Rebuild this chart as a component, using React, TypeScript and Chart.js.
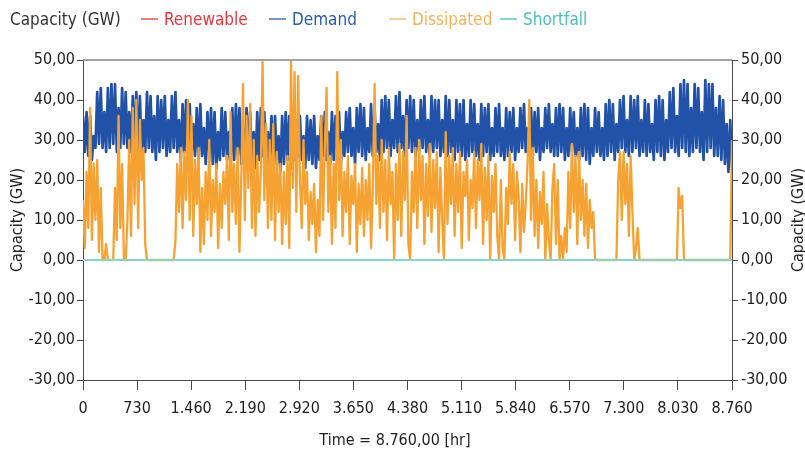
import { useEffect, useRef } from "react";
import { Chart, registerables } from "chart.js";

Chart.register(...registerables);

const FONT = '"Liberation Sans Narrow", "DejaVu Sans Condensed", "Roboto Condensed", "Liberation Sans", sans-serif';

const X_MAX = 8760;
const X_TICK_STEP = 730;
const Y_MIN = -30;
const Y_MAX = 50;
const Y_STEP = 10;
const HOURS_PER_DAY = 24;

const axisTitle = "Capacity (GW)";
const timeTitle = "Time = 8.760,00 [hr]";

const legendItems = [
  { name: "Renewable", line: "#f27a7c", text: "#e8363c" },
  { name: "Demand", line: "#7497cf", text: "#2a5cae" },
  { name: "Dissipated", line: "#f8cf97", text: "#f6b25a" },
  { name: "Shortfall", line: "#84d5cb", text: "#4bc2b3" },
];

// Demand (GW): one row per week, one sample per day, alternating daytime peak / night trough
const demandWeeks: number[][] = [
  [36, 27, 37, 26, 36, 25, 31],
  [28, 42, 29, 43, 28, 37, 27],
  [43, 28, 44, 29, 44, 27, 38],
  [28, 43, 29, 42, 28, 37, 27],
  [41, 28, 42, 27, 41, 26, 35],
  [27, 42, 28, 41, 27, 36, 25],
  [41, 27, 40, 28, 41, 26, 35],
  [27, 41, 28, 42, 27, 35, 25],
  [39, 27, 40, 28, 39, 26, 34],
  [26, 38, 25, 39, 26, 33, 24],
  [37, 25, 38, 24, 37, 23, 32],
  [25, 38, 26, 37, 25, 32, 23],
  [38, 25, 39, 26, 38, 24, 33],
  [25, 38, 26, 37, 25, 32, 23],
  [37, 25, 38, 26, 37, 24, 32],
  [24, 36, 25, 36, 24, 31, 22],
  [36, 24, 37, 25, 36, 23, 31],
  [25, 35, 26, 36, 25, 31, 23],
  [36, 25, 35, 24, 36, 23, 31],
  [25, 36, 26, 37, 25, 32, 24],
  [37, 25, 36, 26, 37, 24, 32],
  [26, 37, 27, 38, 26, 33, 24],
  [38, 27, 39, 26, 38, 25, 33],
  [27, 39, 26, 38, 27, 34, 25],
  [40, 27, 41, 28, 40, 26, 35],
  [28, 41, 27, 42, 28, 36, 26],
  [40, 28, 41, 27, 40, 26, 35],
  [27, 40, 28, 41, 27, 35, 26],
  [41, 27, 40, 28, 40, 26, 35],
  [27, 41, 26, 40, 27, 35, 25],
  [40, 27, 39, 26, 40, 25, 34],
  [26, 40, 27, 39, 26, 34, 25],
  [39, 26, 38, 27, 39, 25, 33],
  [26, 38, 27, 39, 26, 33, 25],
  [38, 26, 37, 27, 38, 25, 33],
  [27, 38, 28, 39, 27, 33, 26],
  [38, 26, 37, 27, 38, 25, 33],
  [27, 38, 28, 39, 27, 34, 26],
  [38, 26, 39, 27, 38, 25, 33],
  [26, 38, 27, 37, 26, 33, 25],
  [38, 26, 39, 25, 38, 24, 33],
  [26, 38, 27, 37, 26, 33, 25],
  [39, 26, 40, 27, 39, 25, 34],
  [27, 40, 28, 41, 27, 35, 26],
  [41, 27, 40, 28, 41, 26, 35],
  [27, 40, 26, 39, 27, 34, 25],
  [40, 27, 41, 26, 40, 25, 35],
  [27, 42, 28, 43, 27, 36, 26],
  [44, 28, 45, 27, 44, 26, 38],
  [27, 44, 28, 43, 27, 37, 25],
  [45, 27, 44, 28, 44, 26, 38],
  [26, 41, 25, 40, 24, 34, 22],
  [35, 23],
];

// Dissipated (GW): runs of daily samples, each run tagged with its first day
const dissipatedRuns: [number, number[]][] = [
  [0, [15, 3, 22, 8, 38, 5, 24, 10, 25, 2, 18]],
  [11, [0, 0, 4, 0, 0, 0, 0]],
  [18, [18, 5, 36, 8, 24]],
  [23, [0, 0]],
  [25, [10, 30, 6, 38, 14, 40, 8, 35, 20, 28, 4]],
  [36, [0]],
  [51, [0]],
  [52, [5, 24, 12, 28, 8, 27, 15, 40, 10]],
  [61, [36, 6, 25, 14, 28, 2]],
  [67, [18, 4, 22, 10, 30, 6, 20, 12, 24, 3, 19, 8, 22]],
  [80, [14, 26, 5, 37, 12, 24, 9, 28, 2]],
  [89, [20, 44, 10, 36, 18, 39, 8, 30]],
  [97, [6, 26, 12, 22]],
  [101, [49.5, 15, 34, 8]],
  [105, [30, 10, 34, 5, 27, 12, 24]],
  [112, [4, 22, 9, 26, 3]],
  [117, [49.5, 18, 47, 12, 46, 20]],
  [123, [8, 30, 14, 22]],
  [127, [5, 17, 9, 19, 2, 15, 6]],
  [134, [36, 10, 28, 43, 12, 26, 4, 24]],
  [142, [8, 47, 15, 30, 6, 22]],
  [148, [12, 26, 4, 21, 14, 24, 2, 19, 9]],
  [157, [23, 6, 20, 10, 24, 3, 18, 44, 14]],
  [166, [26, 8, 30, 12, 25, 5, 28, 14, 22, 0, 24, 10, 29, 6, 27, 15, 36, 4]],
  [184, [0, 22, 12, 28, 8, 30, 15, 26, 4, 24, 11, 29, 7, 25, 13, 27, 2, 23]],
  [202, [10, 0, 32, 9, 26, 14, 28, 6, 24, 12, 27, 3, 22, 16, 25, 5, 20]],
  [219, [13, 27, 8, 25, 15, 29, 4, 23, 10, 26, 0, 21, 12, 24, 6, 0, 20, 3, 0, 18, 9, 27, 14, 24, 5, 22]],
  [245, [16, 2, 19, 7, 14, 24, 40, 10, 28, 6]],
  [255, [20, 3, 17, 9, 22, 0, 14, 5, 0]],
  [264, [18, 24, 4, 20]],
  [268, [0, 6, 0, 8, 2]],
  [273, [22, 8, 29, 12, 26, 4, 27, 10, 20]],
  [282, [6, 19, 3, 15, 8, 12, 0]],
  [289, [0]],
  [300, [0]],
  [301, [20, 27, 10, 27, 14, 24, 6, 26, 12]],
  [310, [0, 3, 8, 0]],
  [314, [0]],
  [334, [0]],
  [335, [18, 13, 16]],
  [338, [0]],
  [364, [0]],
  [365, [30]],
];

// Shortfall (GW): flat at zero over the whole year
const shortfallHours = [0, 8760];
const shortfallValues = [0, 0];

const formatHours = (v: number) => {
  const n = Math.round(v);
  if (n < 1000) return String(n);
  return `${Math.floor(n / 1000)}.${String(n % 1000).padStart(3, "0")}`;
};
const formatGW = (v: number) => v.toFixed(2).replace(".", ",");

const demandPoints = demandWeeks.flatMap((week, w) =>
  week.map((y, j) => ({ x: (w * 7 + j) * HOURS_PER_DAY, y }))
);
const dissipatedPoints = dissipatedRuns.flatMap(([start, vals]) =>
  vals.map((y, j) => ({ x: (start + j) * HOURS_PER_DAY, y }))
);
const shortfallPoints = shortfallHours.map((x, i) => ({ x, y: shortfallValues[i] }));

const AXIS_COLOR = "#4a4a4a";
const TEXT_COLOR = "#1e1e1e";
const TICK_SIZE = 16;

// top frame line, the upward-reading right axis title and the time caption
const frameAndTitles = {
  id: "frameAndTitles",
  afterDraw(chart: any) {
    const { ctx, chartArea } = chart;
    ctx.save();
    ctx.strokeStyle = "#858585";
    ctx.lineWidth = 1.5;
    ctx.beginPath();
    ctx.moveTo(chartArea.left, chartArea.top);
    ctx.lineTo(chartArea.right, chartArea.top);
    ctx.stroke();

    ctx.font = `${TICK_SIZE}px ${FONT}`;
    ctx.fillStyle = TEXT_COLOR;
    ctx.textAlign = "center";
    ctx.textBaseline = "middle";
    ctx.fillText(timeTitle, 395, 441);

    ctx.translate(799, (chartArea.top + chartArea.bottom) / 2);
    ctx.rotate(-Math.PI / 2);
    ctx.fillText(axisTitle, 0, 0);
    ctx.restore();
  },
};

function CapacityChart() {
  const canvasRef = useRef<HTMLCanvasElement | null>(null);

  useEffect(() => {
    if (!canvasRef.current) return;
    Chart.defaults.font.family = FONT;
    const yTicks = {
      stepSize: Y_STEP,
      color: TEXT_COLOR,
      font: { size: TICK_SIZE },
      callback: (v: any) => formatGW(Number(v)),
    };
    const chart = new Chart(canvasRef.current, {
      type: "line",
      data: {
        datasets: [
          {
            label: "Shortfall",
            data: shortfallPoints,
            borderColor: "#86d3ca",
            borderWidth: 2.2,
            pointRadius: 0,
            order: 0,
          },
          {
            label: "Dissipated",
            data: dissipatedPoints,
            borderColor: "#f5a233",
            borderWidth: 2.3,
            borderJoinStyle: "round",
            pointRadius: 0,
            order: 1,
          },
          {
            label: "Demand",
            data: demandPoints,
            borderColor: "#2152a8",
            borderWidth: 2.7,
            borderJoinStyle: "round",
            pointRadius: 0,
            order: 2,
          },
        ],
      },
      options: {
        responsive: false,
        animation: false,
        layout: { padding: { top: 60, left: 0, right: 0, bottom: 0 } },
        plugins: { legend: { display: false }, tooltip: { enabled: false } },
        scales: {
          x: {
            type: "linear",
            min: 0,
            max: X_MAX,
            afterFit: (s: any) => {
              s.height = 73;
            },
            border: { color: AXIS_COLOR, width: 1 },
            grid: { drawOnChartArea: false, drawTicks: true, tickLength: 10, tickColor: AXIS_COLOR },
            ticks: {
              stepSize: X_TICK_STEP,
              autoSkip: false,
              maxRotation: 0,
              padding: 9,
              color: TEXT_COLOR,
              font: { size: TICK_SIZE },
              callback: (v: any) => formatHours(Number(v)),
            },
          },
          y: {
            position: "left",
            min: Y_MIN,
            max: Y_MAX,
            afterFit: (s: any) => {
              s.width = 83;
            },
            border: { color: AXIS_COLOR, width: 1 },
            grid: { drawOnChartArea: false, tickLength: 6, tickColor: AXIS_COLOR },
            ticks: { ...yTicks, padding: 2 },
            title: {
              display: true,
              text: axisTitle,
              color: TEXT_COLOR,
              font: { size: TICK_SIZE },
              padding: { top: 8, bottom: 0 },
            },
          },
          y1: {
            position: "right",
            min: Y_MIN,
            max: Y_MAX,
            afterFit: (s: any) => {
              s.width = 73;
            },
            border: { color: AXIS_COLOR, width: 1 },
            grid: { drawOnChartArea: false, tickLength: 6, tickColor: AXIS_COLOR },
            ticks: { ...yTicks, padding: 3 },
          },
        },
      },
      plugins: [frameAndTitles],
    } as any);
    return () => chart.destroy();
  }, []);

  return <canvas ref={canvasRef} width={805} height={453} style={{ display: "block" }} />;
}

const legendLeft = [141, 269, 389, 500];

export default function App() {
  const textStyle = {
    position: "absolute" as const,
    top: 9,
    fontFamily: FONT,
    fontSize: 17,
    lineHeight: "20px",
    whiteSpace: "nowrap" as const,
  };
  return (
    <div style={{ position: "absolute", left: 0, top: 0, width: 805, height: 453, background: "#fff" }}>
      <CapacityChart />
      <span style={{ ...textStyle, left: 10, color: "#333" }}>{axisTitle}</span>
      {legendItems.map((item, i) => (
        <div key={item.name}>
          <div
            style={{
              position: "absolute",
              left: legendLeft[i],
              top: 18,
              width: 17,
              height: 2,
              background: item.line,
            }}
          />
          <span style={{ ...textStyle, left: legendLeft[i] + 23, color: item.text }}>{item.name}</span>
        </div>
      ))}
    </div>
  );
}
